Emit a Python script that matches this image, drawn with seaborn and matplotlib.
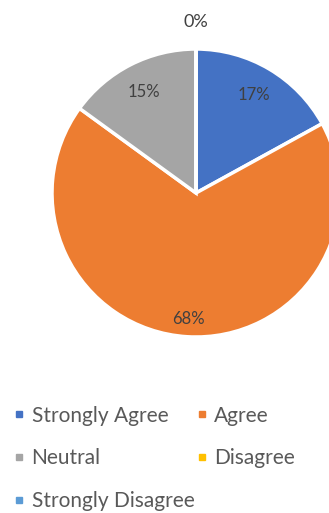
import numpy as np
import seaborn as sns
import matplotlib.pyplot as plt
from matplotlib.lines import Line2D

# === Survey responses ===
categories = ['Strongly Agree', 'Agree', 'Neutral', 'Disagree', 'Strongly Disagree']
shares = [17, 68, 15, 0, 0]
colors = ['#4472C4', '#ED7D31', '#A5A5A5', '#FFC000', '#5B9BD5']

sns.set_theme(style='white')
plt.rcParams['font.family'] = ['Lato', 'DejaVu Sans']
text_color = '#595959'

fig = plt.figure(figsize=(3.29, 5.13), dpi=100)
cx, cy, r = 196, 513 - 193, 144
ax = fig.add_axes([(cx - r) / 329, (cy - r) / 513, 2 * r / 329, 2 * r / 513])

wedges, _ = ax.pie(shares, colors=colors, startangle=90, counterclock=False,
                   radius=1, wedgeprops=dict(edgecolor='white', linewidth=2.5))
ax.set_xlim(-1, 1)
ax.set_ylim(-1, 1)
ax.set_aspect('equal')
ax.axis('off')

# --- percentage labels placed from wedge angles ---
shown_zero = False
for w, v in zip(wedges, shares):
    mid = np.deg2rad((w.theta1 + w.theta2) / 2)
    if v == 0:
        if shown_zero:
            continue
        shown_zero = True
        dist, size = 1.19, 13
    elif v > 50:
        dist, size = 0.88, 12
    else:
        dist, size = 0.79, 12
    ax.text(dist * np.cos(mid), dist * np.sin(mid), f'{v}%', ha='center', va='center',
            fontsize=size, color='#404040', clip_on=False)

# --- legend: two columns, row-wise order ---
order = [0, 2, 4, 1, 3]
handles = [Line2D([], [], marker='s', linestyle='', markersize=5, color=colors[i]) for i in order]
labels = [categories[i] for i in order]
fig.legend(handles, labels, ncol=2, loc='upper left', bbox_to_anchor=(-0.015, 0.246),
           frameon=False, fontsize=15, labelcolor=text_color, handlelength=0.5,
           handletextpad=0.35, columnspacing=0.1, labelspacing=1.1)

fig.savefig('out.png', dpi=100)
